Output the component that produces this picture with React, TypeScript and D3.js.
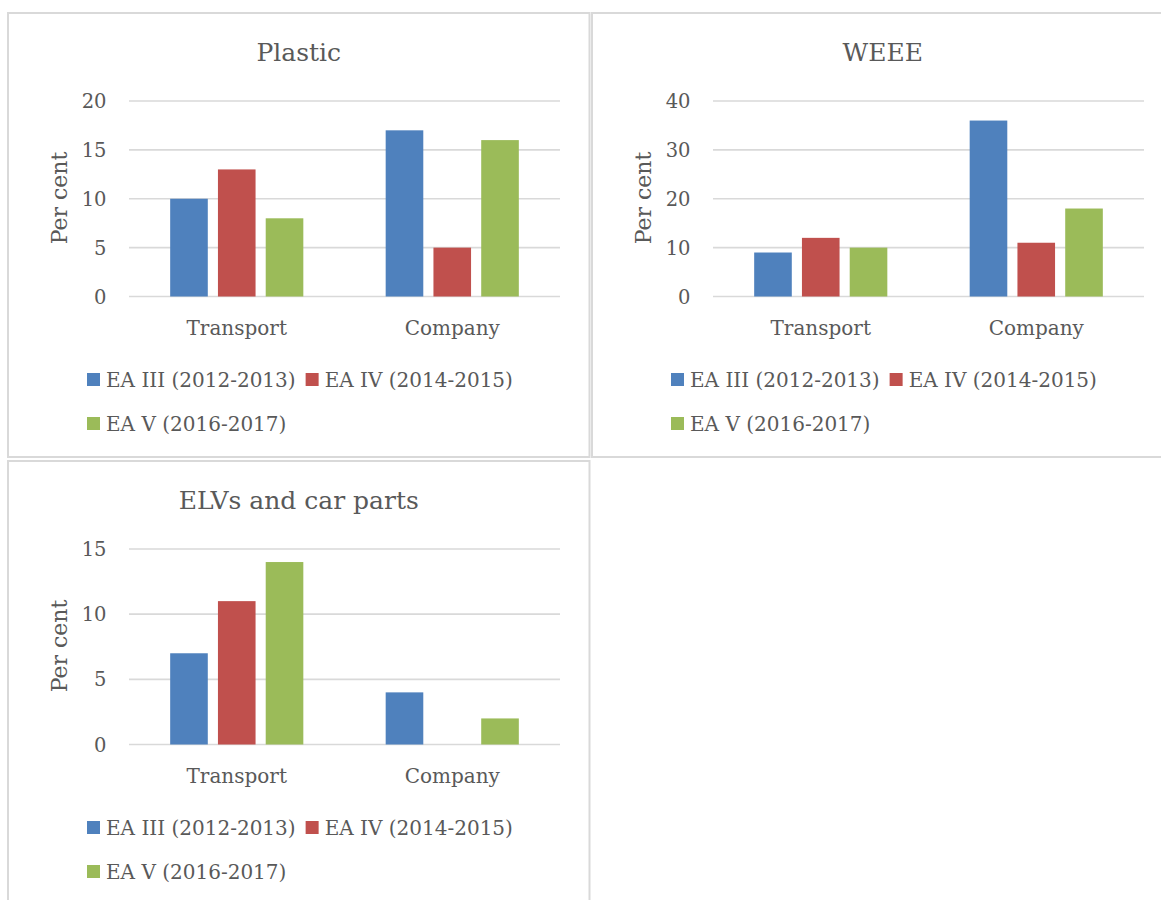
import React, { useEffect, useRef } from "react";
import * as d3 from "d3";

// Categories, series and values for the three small-multiple bar charts
const categories = ["Transport", "Company"];
const seriesNames = ["EA III (2012-2013)", "EA IV (2014-2015)", "EA V (2016-2017)"];
const seriesColors = ["#4F81BD", "#C0504D", "#9BBB59"];

// values per series, in category order [Transport, Company]
const plasticValues = [
  [10, 17],
  [13, 5],
  [8, 16],
];
const weeeValues = [
  [9, 36],
  [12, 11],
  [10, 18],
];
const elvValues = [
  [7, 4],
  [11, 0],
  [14, 2],
];

const plasticTicks = [0, 5, 10, 15, 20];
const weeeTicks = [0, 10, 20, 30, 40];
const elvTicks = [0, 5, 10, 15];

const panels = [
  { title: "Plastic", values: plasticValues, ticks: plasticTicks, x: 8, y: 13 },
  { title: "WEEE", values: weeeValues, ticks: weeeTicks, x: 592, y: 13 },
  { title: "ELVs and car parts", values: elvValues, ticks: elvTicks, x: 8, y: 461 },
];

const FONT = "'DejaVu Serif', 'Liberation Serif', serif";
const TEXT = "#595959";
const GRID = "#D9D9D9";

const PANEL_W = 581.5;
const PANEL_H = 444;
const PLOT = { l: 121, r: 552, t: 88, b: 283.5 };

type Panel = (typeof panels)[number];

function drawPanel(g: d3.Selection<SVGGElement, unknown, null, undefined>, cfg: Panel) {
  g.append("rect")
    .attr("x", 0)
    .attr("y", 0)
    .attr("width", PANEL_W)
    .attr("height", PANEL_H)
    .attr("fill", "#fff")
    .attr("stroke", GRID)
    .attr("stroke-width", 2);

  const x0 = d3.scaleBand<string>().domain(categories).range([PLOT.l, PLOT.r]);
  // clustered columns: 219% gap between clusters, -27% overlap inside a cluster
  const x1 = d3
    .scaleBand<string>()
    .domain(seriesNames)
    .range([0, x0.bandwidth()])
    .paddingInner(0.2126)
    .paddingOuter(0.862);
  const y = d3
    .scaleLinear()
    .domain([0, d3.max(cfg.ticks) as number])
    .range([PLOT.b, PLOT.t]);

  // gridlines
  g.append("g")
    .selectAll("line")
    .data(cfg.ticks)
    .join("line")
    .attr("x1", PLOT.l)
    .attr("x2", PLOT.r)
    .attr("y1", (d) => y(d))
    .attr("y2", (d) => y(d))
    .attr("stroke", GRID)
    .attr("stroke-width", 1.6);

  // tick labels
  g.append("g")
    .selectAll("text")
    .data(cfg.ticks)
    .join("text")
    .attr("x", 98.5)
    .attr("y", (d) => y(d))
    .attr("dy", "0.36em")
    .attr("text-anchor", "end")
    .attr("font-family", FONT)
    .attr("font-size", 19.5)
    .attr("fill", TEXT)
    .text((d) => String(d));

  // bars
  const bars = cfg.values.flatMap((vals, si) =>
    vals.map((v, ci) => ({ series: seriesNames[si], color: seriesColors[si], cat: categories[ci], v }))
  );
  g.append("g")
    .selectAll("rect")
    .data(bars)
    .join("rect")
    .attr("x", (d) => (x0(d.cat) as number) + (x1(d.series) as number))
    .attr("width", x1.bandwidth())
    .attr("y", (d) => y(d.v))
    .attr("height", (d) => y(0) - y(d.v))
    .attr("fill", (d) => d.color);

  // category labels
  g.append("g")
    .selectAll("text")
    .data(categories)
    .join("text")
    .attr("x", (d) => (x0(d) as number) + x0.bandwidth() / 2)
    .attr("y", 322)
    .attr("text-anchor", "middle")
    .attr("font-family", FONT)
    .attr("font-size", 20)
    .attr("fill", TEXT)
    .text((d) => d);

  // title
  g.append("text")
    .attr("x", PANEL_W / 2)
    .attr("y", 48)
    .attr("text-anchor", "middle")
    .attr("font-family", FONT)
    .attr("font-size", 25)
    .attr("fill", TEXT)
    .text(cfg.title);

  // y-axis title
  g.append("text")
    .attr("transform", "translate(58.7,185) rotate(-90)")
    .attr("text-anchor", "middle")
    .attr("font-family", FONT)
    .attr("font-size", 22)
    .attr("fill", TEXT)
    .text("Per cent");

  // legend, flowing into rows
  const legend = g.append("g");
  const rowY = [366.5, 410.5];
  const startX = 79;
  const maxX = 540;
  let cx = startX;
  let row = 0;
  seriesNames.forEach((name, i) => {
    const item = legend.append("g");
    item
      .append("rect")
      .attr("width", 13)
      .attr("height", 13)
      .attr("y", -6.5)
      .attr("fill", seriesColors[i]);
    const t = item
      .append("text")
      .attr("x", 19)
      .attr("dy", "0.36em")
      .attr("font-family", FONT)
      .attr("font-size", 20)
      .attr("fill", TEXT)
      .text(name);
    const w = 19 + (t.node() as SVGTextElement).getComputedTextLength();
    if (cx !== startX && cx + w > maxX) {
      row += 1;
      cx = startX;
    }
    item.attr("transform", `translate(${cx},${rowY[row]})`);
    cx += w + 10;
  });
}

export default function App() {
  const ref = useRef<SVGSVGElement>(null);

  useEffect(() => {
    const svg = d3.select(ref.current as SVGSVGElement);
    svg.selectAll("*").remove();
    panels.forEach((p) => {
      const g = svg.append("g").attr("transform", `translate(${p.x},${p.y})`);
      drawPanel(g, p);
    });
  }, []);

  return (
    <svg
      ref={ref}
      width={1161}
      height={900}
      style={{ position: "absolute", left: 0, top: 0, background: "#fff", display: "block" }}
    />
  );
}
